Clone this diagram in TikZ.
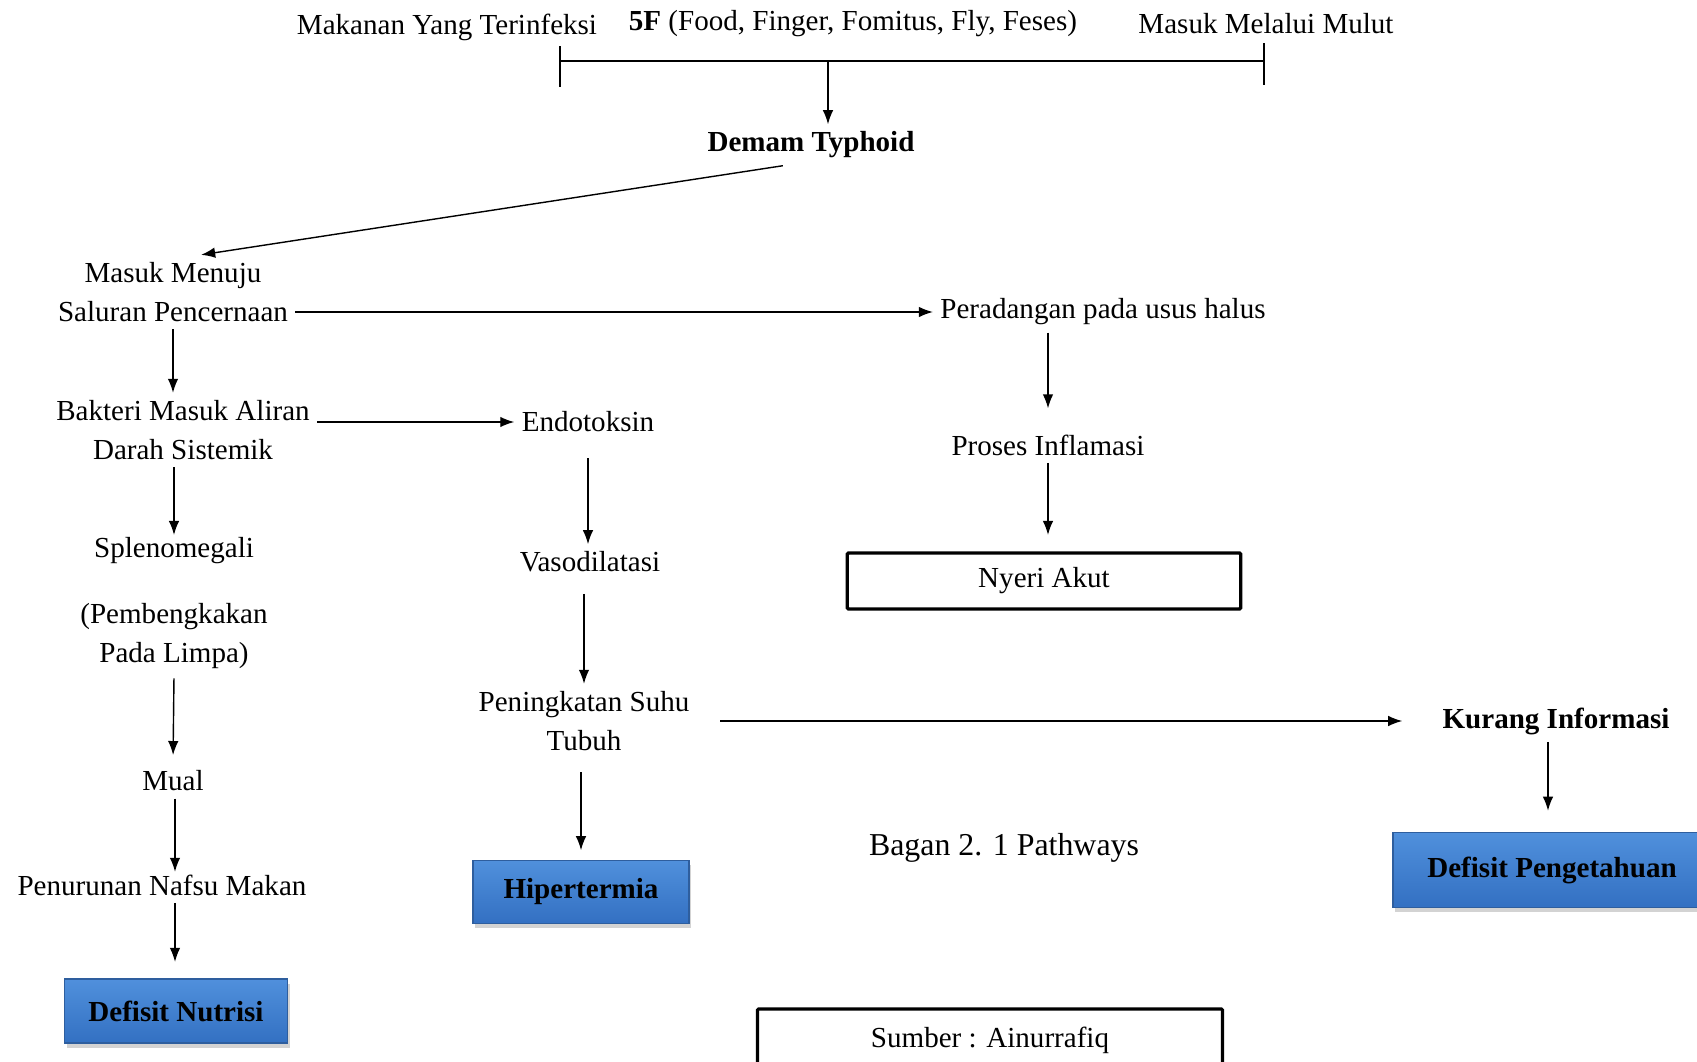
\documentclass[tikz,border=0pt]{standalone}
\usepackage{fontspec}
\setmainfont{Liberation Serif}
\usetikzlibrary{arrows.meta}
\usetikzlibrary{shadows}

\definecolor{biruatas}{HTML}{5090DC}
\definecolor{birubawah}{HTML}{3370C2}
\definecolor{birutepi}{HTML}{2E5E9E}

\begin{document}
\begin{tikzpicture}[x=0.015cm, y=-0.015cm, >={Latex[length=6pt,width=4.5pt]},
    every node/.style={font=\fontsize{12.4}{16.6}\selectfont, align=center, inner sep=3pt},
    tebal/.style={font=\fontsize{12.4}{16.6}\selectfont\bfseries},
    kotak/.style={draw, line width=1.4pt, rounded corners=0.5pt},
    biru/.style={draw=birutepi, line width=0.6pt, top color=biruatas, bottom color=birubawah,
      font=\fontsize{12.4}{16.6}\selectfont\bfseries,
      drop shadow={opacity=0.35, shadow xshift=1pt, shadow yshift=-2pt}}]
  \useasboundingbox (0,0) rectangle (1697,1062);

  % Simpul
  \node (mt) at (447,27) {Makanan Yang Terinfeksi};
  \node (ff) at (853,24) {\textbf{5F} (Food, Finger, Fomitus, Fly, Feses)};
  \node (mmu) at (1266,24) {Masuk Melalui Mulut};
  \node[tebal] (dt) at (811,145) {Demam Typhoid};
  \node (mm) at (173,292) {Masuk Menuju\\Saluran Pencernaan};
  \node (pr) at (1103,312) {Peradangan pada usus halus};
  \node (pi) at (1048,445) {Proses Inflamasi};
  \node[kotak, minimum width=5.9cm, minimum height=0.84cm] (na) at (1044,581) {Nyeri Akut};
  \node (bk) at (183,430) {Bakteri Masuk Aliran\\Darah Sistemik};
  \node (en) at (588,422) {Endotoksin};
  \node (va) at (590,562) {Vasodilatasi};
  \node (pt) at (584,721) {Peningkatan Suhu\\Tubuh};
  \node[tebal] (ki) at (1556,721) {Kurang Informasi};
  \node[biru, minimum width=4.77cm, minimum height=1.125cm] (dp) at (1552,870) {Defisit Pengetahuan};
  \node (sp) at (174,551) {Splenomegali};
  \node (pl) at (174,636) {(Pembengkakan\\Pada Limpa)};
  \node (mu) at (173,781) {Mual};
  \node (pn) at (162,885) {Penurunan Nafsu Makan};
  \node[biru, minimum width=3.35cm, minimum height=0.96cm] (dn) at (176,1011) {Defisit Nutrisi};
  \node[biru, minimum width=3.24cm, minimum height=0.95cm] (hi) at (581,892) {Hipertermia};
  \node[font=\fontsize{13.6}{16}\selectfont] (bg) at (1004,848) {Bagan 2. 1 Pathways};
  \node[kotak, minimum width=6.975cm, minimum height=0.93cm] (sb) at (990,1040) {Sumber : Ainurrafiq};

  % Kurung atas
  \coordinate (kiri) at (560,61);
  \coordinate (kanan) at (1264,61);
  \coordinate (tengah) at (828,61);
  \draw[line width=1.2pt] (kiri) -- (kanan);
  \draw[line width=0.6pt] (560,46) -- (560,87);
  \draw[line width=0.6pt] (1264,43) -- (1264,85);

  % Panah
  \draw[->, line width=0.6pt] (tengah) -- (tengah |- dt.north);
  \draw[->, line width=0.6pt] ([xshift=-12pt]dt.south) -- ([xshift=12pt]mm.north);
  \draw[->, line width=0.6pt] (pr.west -| mm.east) -- (pr.west);
  \draw[->, line width=0.6pt, shorten >=8pt] (pi.north |- pr.south) -- (pi.north);
  \draw[->, line width=0.6pt, shorten >=7pt] (pi.south) -- (na.north -| pi.south);
  \draw[->, line width=0.6pt] (mm.south) -- (mm.south |- bk.north);
  \draw[->, line width=0.6pt] (en.west -| bk.east) -- (en.west);
  \draw[->, line width=0.6pt, shorten >=-2pt] (sp.north |- bk.south) -- (sp.north);
  \draw[->, line width=0.6pt, shorten <=8pt] (en.south) -- (en.south |- va.north);
  \draw[->, line width=0.6pt, shorten <=6pt] (pt.north |- va.south) -- (pt.north);
  \draw[->, line width=0.6pt, shorten <=6pt, shorten >=4pt] (hi.north |- pt.south) -- (hi.north);
  \draw[->, line width=0.6pt, shorten <=10pt, shorten >=14pt] (pt.east) -- (ki.west);
  \draw[->, line width=0.6pt, shorten >=9pt] (ki.south -| 1548,0) -- (dp.north -| 1548,0);
  \draw[->, line width=0.6pt, shorten <=1pt, shorten >=3.5pt] (pl.south) -- (mu.north);
  \draw[->, line width=0.6pt, shorten >=-2pt] (mu.south -| 175,0) -- (pn.north -| 175,0);
  \draw[->, line width=0.6pt, shorten >=7pt] (pn.south -| 175,0) -- (dn.north -| 175,0);
\end{tikzpicture}
\end{document}
